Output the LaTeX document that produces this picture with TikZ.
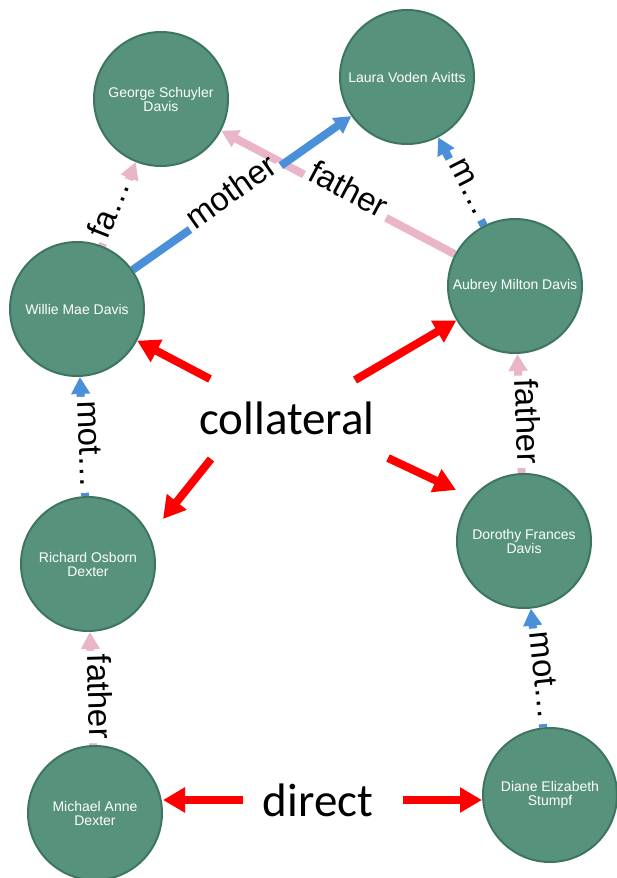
\documentclass[tikz,border=0pt]{standalone}
\usepackage{fontspec}
\setmainfont{Liberation Sans}
\newfontfamily\calib{Carlito}
\usetikzlibrary{arrows.meta}
\definecolor{nodefill}{HTML}{57937C}
\definecolor{nodeline}{HTML}{3D7560}
\definecolor{motherblue}{HTML}{4A90D9}
\definecolor{fatherpink}{HTML}{EAB5C9}
\pgfdeclarelayer{edges}
\pgfsetlayers{edges,main}

\begin{document}
\begin{tikzpicture}[x=1pt,y=-1pt,
  person/.style={circle, fill=nodefill, draw=nodeline, line width=2pt,
    minimum size=134pt, inner sep=0pt, text=white, align=center,
    font=\fontsize{14}{14}\selectfont},
  rel/.style={line width=8pt, -{Triangle[width=18pt,length=17pt]}},
  fatheredge/.style={rel, draw=fatherpink},
  motheredge/.style={rel, draw=motherblue},
  lbl/.style={fill=white, sloped, inner xsep=4pt, inner ysep=1pt,
    text height=0.72em, text depth=0.02em,
    font=\fontsize{33}{33}\selectfont, text=black},
  kind/.style={font=\calib\fontsize{47}{47}\selectfont, inner sep=0pt},
  pointer/.style={draw=red, line width=8pt, -{Triangle[width=24pt,length=22pt]}}
]
\useasboundingbox (0,0) rectangle (617,878);

% family members
\node[person] (george)  at (161,99)  {George Schuyler\\Davis};
\node[person] (laura)   at (407,77)  {Laura Voden Avitts};
\node[person] (willie)  at (77,309)  {Willie Mae Davis};
\node[person] (aubrey)  at (515,286) {Aubrey Milton Davis};
\node[person] (richard) at (88,564)  {Richard Osborn\\Dexter};
\node[person] (dorothy) at (524,541) {Dorothy Frances\\Davis};
\node[person] (michael) at (95,813)  {Michael Anne\\Dexter};
\node[person] (diane)   at (550,795) {Diane Elizabeth\\Stumpf};

% relationship kinds
\node[kind] (collateral) at (287,418) {collateral};
\node[kind] (direct)     at (318,800) {direct};

% parent links, under the circles
\begin{pgfonlayer}{edges}
\draw[fatheredge] (aubrey) -- node[lbl,pos=.47]{father} (george);
\draw[motheredge] (willie) -- node[lbl,pos=.47]{mother} (laura);
\draw[fatheredge] (willie) -- node[lbl,pos=.41]{fa…} (george);
\draw[motheredge] (aubrey) -- node[lbl,pos=.41]{m…} (laura);
\draw[motheredge] (richard) -- node[lbl,pos=.43]{mot…} (willie);
\draw[fatheredge] (dorothy) -- node[lbl,pos=.43]{father} (aubrey);
\draw[motheredge] (diane) -- node[lbl,pos=.43]{mot…} (dorothy);
\draw[fatheredge] (michael) -- node[lbl,pos=.425]{father} (richard);
\end{pgfonlayer}

% pointers from the kind labels
\coordinate (cw) at (210,379);
\coordinate (ca) at (355,380);
\coordinate (cr) at (211,459);
\coordinate (crt) at (163,519);
\coordinate (cd) at (388,458);
\coordinate (cdt) at (456,490);
\coordinate (dl) at (243,800);
\coordinate (dr) at (403,800);

\draw[pointer] (cw) -- (willie);
\draw[pointer] (ca) -- (aubrey);
\draw[pointer] (cr) -- (crt);
\draw[pointer] (cd) -- (cdt);
\draw[pointer] (dl) -- (dl -| michael.east);
\draw[pointer] (dr) -- (dr -| diane.west);
\end{tikzpicture}
\end{document}
